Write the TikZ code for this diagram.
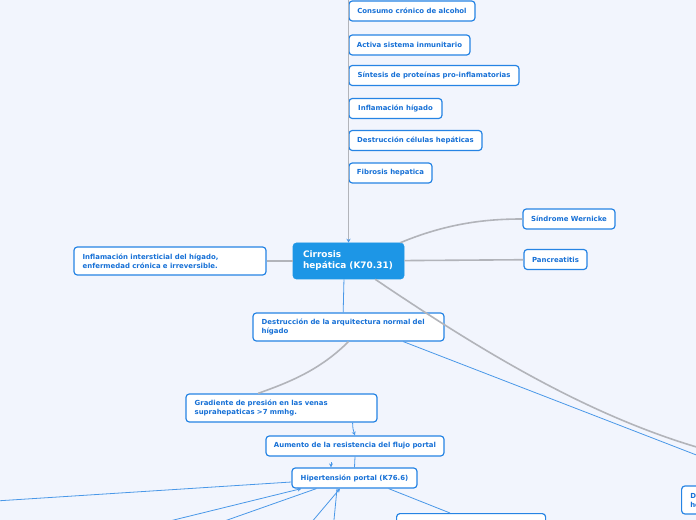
\documentclass[tikz,border=0pt]{standalone}
\usepackage{fontspec}
\usepackage{xcolor}
\usepackage{tikz}
\usetikzlibrary{arrows.meta}
\newfontfamily\mapfont{DejaVu Sans}
\definecolor{mapbg}{RGB}{242,245,253}
\definecolor{mapblue}{RGB}{38,132,228}
\definecolor{maptext}{RGB}{22,112,214}
\definecolor{rootfill}{RGB}{29,150,230}
\definecolor{linkblue}{RGB}{74,152,232}
\definecolor{linkgray}{RGB}{178,180,186}
\tikzset{
  topicnode/.style = {rectangle, rounded corners=2.5pt, fill=white, draw=mapblue,
                      line width=0.9pt, text=maptext, inner sep=0pt,
                      font=\mapfont\bfseries\fontsize{5.2}{6.75}\selectfont},
  widenode/.style  = {topicnode, align=left, inner xsep=6.5pt},
  rootnode/.style  = {rectangle, rounded corners=2.5pt, fill=rootfill, draw=rootfill,
                      text=white, inner sep=0pt, align=left, inner xsep=7.5pt,
                      font=\mapfont\bfseries\fontsize{6.7}{8.25}\selectfont},
  grayedge/.style  = {linkgray, line width=1.2pt},
  blueedge/.style  = {linkblue, line width=0.6pt},
  tipedge/.style   = {blueedge, -{Stealth[length=3pt, width=3pt]}}
}

\begin{document}
\begin{tikzpicture}[x=0.75pt, y=-0.75pt]
  \useasboundingbox (0,0) rectangle (696,520);
  \fill[mapbg] (0,0) rectangle (696,520);
  \clip (0,0) rectangle (696,520);
  % Causes column
  \node[topicnode, minimum width=94.5pt,  minimum height=15pt] (alc)  at (412,  11)   {Consumo crónico de alcohol};
  \node[topicnode, minimum width=90.75pt, minimum height=15pt] (inm)  at (409.5,45)   {Activa sistema inmunitario};
  \node[topicnode, minimum width=127.5pt, minimum height=15pt] (prot) at (434,  75.5) {Síntesis de proteínas pro-inflamatorias};
  \node[topicnode, minimum width=69.75pt, minimum height=15pt] (infl) at (395.5,108.5){Inflamación hígado};
  \node[topicnode, minimum width=99.75pt, minimum height=15pt] (dest) at (415.5,140.5){Destrucción células hepáticas};
  \node[topicnode, minimum width=62.25pt, minimum height=15pt] (fib)  at (390.5,173)  {Fibrosis hepatica};
  % Central topic
  \node[rootnode, text width=68.25pt, minimum height=27pt] (cir) at (348.5,261) {Cirrosis\\hepática (K70.31)};
  % Side topics
  \node[widenode, text width=131pt, minimum height=21pt] (inter) at (170,261)
    {Inflamación intersticial del hígado,\\enfermedad crónica e irreversible.};
  \node[topicnode, minimum width=69pt,    minimum height=15pt] (wer) at (569,  219)   {Síndrome Wernicke};
  \node[topicnode, minimum width=47.25pt, minimum height=15pt] (pan) at (555.5,259.5) {Pancreatitis};
  % Pathway
  \node[widenode, text width=130.25pt, minimum height=21pt] (arq) at (348.5,327)
    {Destrucción de la arquitectura normal del\\hígado};
  \node[widenode, text width=130.25pt, minimum height=21pt] (grad) at (281.5,408)
    {Gradiente de presión en las venas\\suprahepaticas >7 mmhg.};
  \node[topicnode, minimum width=133.5pt, minimum height=15pt] (aum) at (355,  446) {Aumento de la resistencia del flujo portal};
  \node[topicnode, minimum width=93.75pt, minimum height=15pt] (hip) at (354.5,478) {Hipertensión portal (K76.6)};
  % Cut-off topics
  \node[widenode, anchor=west, text width=90pt, minimum height=21pt] (dis) at (681,500) {Di\\he};
  \node[topicnode, anchor=north west, minimum width=111.75pt, minimum height=21pt] (bot) at (396,513) {};
  % Loose ends
  \coordinate (topend) at (348.5,-5);
  \coordinate (eastg)  at (730,456);
  \coordinate (eastb)  at (730,468);
  \coordinate (westh)  at (-20,502);
  \coordinate (offs1)  at (133,530);
  \coordinate (offs2)  at (199,530);
  \coordinate (offs3)  at (305,530);
  \coordinate (offs4)  at (333,530);
  \coordinate (tipup)  at (331,462);
  % Edges
  \draw[grayedge, -{Stealth[color=linkblue, length=3pt, width=3pt]}] (topend) -- (cir.north);
  \draw[grayedge] (inter) -- (cir);
  \draw[grayedge] (cir) -- (pan);
  \draw[grayedge] ([xshift=-3pt]cir.north east) .. controls (450,222) and (490,219) .. (wer.west);
  \draw[grayedge] ([xshift=20pt]cir.south) .. controls (480,350) and (600,425) .. (eastg);
  \draw[blueedge] ([xshift=-3.4pt]cir.south) -- ([xshift=-4pt]arq.north);
  \draw[blueedge] ([xshift=-31pt]arq.south east) -- (eastb);
  \draw[grayedge] (arq.south) .. controls (320,370) and (290,382) .. ([xshift=-17.6pt]grad.north);
  \draw[tipedge] ([xshift=-18.75pt]grad.south east) to[bend right=10] (aum.north);
  \draw[blueedge] (aum.south) -- (hip.north);
  \draw[tipedge] (tipup) -- (tipup |- hip.north);
  \draw[blueedge] ([yshift=-3pt]hip.west) -- (westh);
  \draw[tipedge] (offs1) -- ([xshift=7.5pt]hip.south west);
  \draw[blueedge] (offs2) -- ([xshift=18.75pt]hip.south west);
  \draw[tipedge] (offs3) -- ([xshift=-10.9pt]hip.south);
  \draw[blueedge] (offs4) -- ([xshift=-13.1pt]hip.south);
  \draw[blueedge] ([xshift=-21.75pt]hip.south east) -- ([xshift=40.5pt]bot.north west);
\end{tikzpicture}
\end{document}
